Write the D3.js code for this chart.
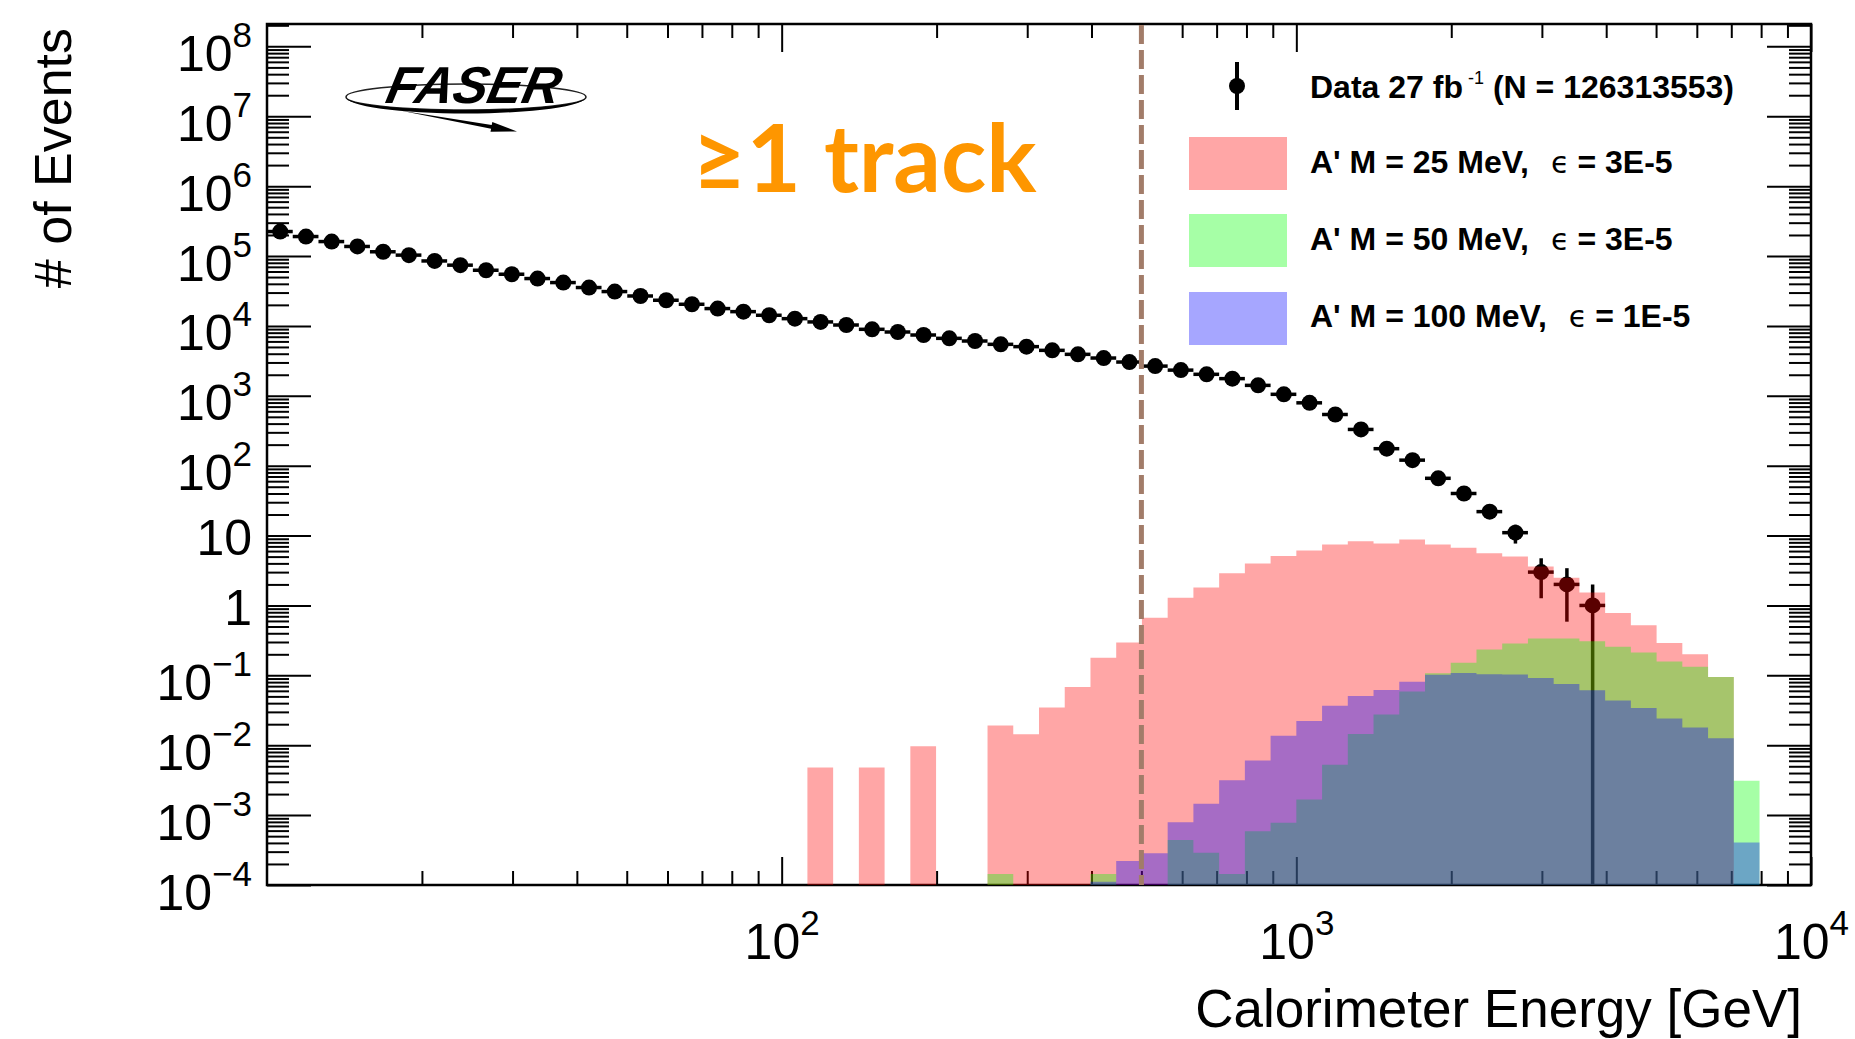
<!DOCTYPE html>
<html>
<head>
<meta charset="utf-8">
<title>FASER calorimeter energy, ≥1 track</title>
<script src="https://cdn.jsdelivr.net/npm/d3@7/dist/d3.min.js"></script>
<style>
  html, body { margin: 0; padding: 0; background: #fff; }
  svg { display: block; }
</style>
</head>
<body>
<svg id="chart" width="1855" height="1039"></svg>
<script>
// ---- binning: logarithmic, 20 bins per decade starting at 10 GeV ----
const binsPerDecade = 20;
const firstEdgeGeV = 10;

// ---- observed events per bin (bin index counted from 10 GeV) ----
const dataFirstBin = 0;
const dataCounts = [224000, 190000, 161000, 137000, 115000, 103000, 85000, 74000, 62600, 54900,
                    47600, 41700, 35400, 31000, 26800, 23300, 20400, 17700, 16000, 14200,
                    12700, 11400, 10300, 8940, 8180, 7410, 6640, 6080, 5450, 5050,
                    4470, 3920, 3470, 3040, 2660, 2330, 2030, 1760, 1410, 1050,
                    793, 540, 330, 175, 120, 66, 40, 22, 11, 3,
                    2, 1];

// ---- A' signal expectations ----
const m25FirstBin = 21;
const m25Values = [0.0048, 0, 0.0048, 0, 0.0097, 0, 0, 0.0191, 0.0143, 0.0347,
                   0.0679, 0.179, 0.296, 0.668, 1.29, 1.81, 2.88, 4.0, 5.1, 6.1,
                   7.45, 8.3, 7.7, 8.8, 7.45, 6.7, 5.6, 5.0, 3.6, 2.5,
                   1.53, 0.78, 0.52, 0.29, 0.20, 0.095];

const m50FirstBin = 28;
const m50Values = [1.44e-4, 0, 0, 0, 1.44e-4, 0, 0, 4.4e-4, 2.9e-4, 1.44e-4,
                   5.9e-4, 7.8e-4, 1.67e-3, 5.25e-3, 0.0145, 0.0276, 0.0586, 0.107, 0.151, 0.234,
                   0.285, 0.336, 0.336, 0.308, 0.256, 0.212, 0.158, 0.133, 0.095, 0.0031];

const m100FirstBin = 32;
const m100Values = [1.11e-4, 2.2e-4, 2.85e-4, 7.9e-4, 1.45e-3, 3.15e-3, 6.05e-3, 0.0137, 0.0222, 0.0366,
                    0.0508, 0.0618, 0.0812, 0.102, 0.108, 0.104, 0.103, 0.0916, 0.0753, 0.0612,
                    0.0436, 0.034, 0.0242, 0.018, 0.0126, 4.05e-4];

// ---- axes ----
const xDomain = [10, 10000];
const yDomain = [1e-4, Math.pow(10, 8.32)];
const xLabelledTicks = [100, 1000, 10000];
const yLabelledTicks = [1e-4, 1e-3, 1e-2, 1e-1, 1, 10, 1e2, 1e3, 1e4, 1e5, 1e6, 1e7, 1e8];
const cutEnergyGeV = 500;

// ---- legend ----
const legendData = "Data 27 fb";
const legendDataSup = "-1";
const legendDataTail = "(N = 126313553)";
const legendSignals = [
  { mass: "A' M = 25 MeV,",  coupling: "= 3E-5" },
  { mass: "A' M = 50 MeV,",  coupling: "= 3E-5" },
  { mass: "A' M = 100 MeV,", coupling: "= 1E-5" }
];

// ================= drawing =================
const FONT = '"Liberation Sans", Arial, Helvetica, sans-serif';
const frame = { left: 267, right: 1811, top: 24, bottom: 885 };
const fills = ['#ff0000', '#00ff00', '#0000ff'];
const fillAlpha = 0.35;
const markerR = 8;

const svg = d3.select('#chart');
const x = d3.scaleLog().domain(xDomain).range([frame.left, frame.right]);
const y = d3.scaleLog().domain(yDomain).range([frame.bottom, frame.top]);
const edge = k => firstEdgeGeV * Math.pow(10, k / binsPerDecade);

// 2..9 sub-divisions of each decade, from the scales' own log ticks
const isDecade = v => Math.abs(Math.log10(v) - Math.round(Math.log10(v))) < 1e-9;
const xMinor = x.ticks(30).filter(v => !isDecade(v));
const yMinor = y.ticks(100).filter(v => !isDecade(v));

// ---------- axes & frame ----------
const gAxes = svg.append('g');
function tidy(g) {
  g.select('.domain').remove();
  g.selectAll('.tick line').attr('stroke', '#000').attr('stroke-width', 2);
  g.attr('font-family', FONT);
}
function noLabels(g) { g.selectAll('.tick text').remove(); }

// left
gAxes.append('g').attr('transform', `translate(${frame.left},0)`)
  .call(d3.axisLeft(y).tickValues(yMinor).tickSize(-22).tickFormat(''))
  .call(tidy).call(noLabels);
const gLeft = gAxes.append('g').attr('transform', `translate(${frame.left},0)`)
  .call(d3.axisLeft(y).tickValues(yLabelledTicks).tickSize(-44).tickPadding(16))
  .call(tidy);
// right
gAxes.append('g').attr('transform', `translate(${frame.right},0)`)
  .call(d3.axisRight(y).tickValues(yMinor).tickSize(-22).tickFormat(''))
  .call(tidy).call(noLabels);
gAxes.append('g').attr('transform', `translate(${frame.right},0)`)
  .call(d3.axisRight(y).tickValues(yLabelledTicks).tickSize(-44).tickFormat(''))
  .call(tidy).call(noLabels);
// bottom
gAxes.append('g').attr('transform', `translate(0,${frame.bottom})`)
  .call(d3.axisBottom(x).tickValues(xMinor).tickSize(-14).tickFormat(''))
  .call(tidy).call(noLabels);
const gBottom = gAxes.append('g').attr('transform', `translate(0,${frame.bottom})`)
  .call(d3.axisBottom(x).tickValues(xLabelledTicks).tickSize(-28))
  .call(tidy);
// top
gAxes.append('g').attr('transform', `translate(0,${frame.top})`)
  .call(d3.axisTop(x).tickValues(xMinor).tickSize(-14).tickFormat(''))
  .call(tidy).call(noLabels);
gAxes.append('g').attr('transform', `translate(0,${frame.top})`)
  .call(d3.axisTop(x).tickValues(xLabelledTicks).tickSize(-28).tickFormat(''))
  .call(tidy).call(noLabels);

// power-of-ten labels written as 10 with a raised exponent
function powerLabel(sel, v) {
  const e = Math.round(Math.log10(v));
  sel.text(null).attr('dy', null).attr('font-size', 50).attr('fill', '#000');
  if (e === 0 || e === 1) {
    sel.append('tspan').text(e === 0 ? '1' : '10');
    return false;
  }
  sel.append('tspan').text('10');
  sel.append('tspan').attr('dy', -24).attr('font-size', 35)
     .text(e < 0 ? '\u2212' + (-e) : String(e));
  return true;
}
gLeft.selectAll('.tick text').each(function (v) {
  const t = d3.select(this);
  const sup = powerLabel(t, v);
  t.attr('x', -15).attr('y', sup ? 24 : 19).attr('text-anchor', 'end');
});
gBottom.selectAll('.tick text').each(function (v) {
  const t = d3.select(this);
  powerLabel(t, v);
  t.attr('y', 74).attr('text-anchor', 'middle');
});

// frame
gAxes.append('rect')
  .attr('x', frame.left).attr('y', frame.top)
  .attr('width', frame.right - frame.left).attr('height', frame.bottom - frame.top)
  .attr('fill', 'none').attr('stroke', '#000').attr('stroke-width', 2.5);

// ---------- data points ----------
const gData = svg.append('g');
dataCounts.forEach((n, i) => {
  if (!(n > 0)) return;
  const k = dataFirstBin + i;
  const lo = edge(k), hi = edge(k + 1);
  const xc = x((lo + hi) / 2);
  const yc = y(n);
  const err = Math.sqrt(n);
  const yLow = y(Math.max(n - err, yDomain[0]));
  const yHigh = y(n + err);
  const g = gData.append('g');
  g.append('line').attr('x1', x(lo)).attr('x2', x(hi)).attr('y1', yc).attr('y2', yc)
    .attr('stroke', '#000').attr('stroke-width', 3.5);
  g.append('line').attr('x1', xc).attr('x2', xc).attr('y1', yHigh).attr('y2', yLow)
    .attr('stroke', '#000').attr('stroke-width', 3.5);
  g.append('circle').attr('cx', xc).attr('cy', yc).attr('r', markerR).attr('fill', '#000');
});

// ---------- signal histograms (translucent, overlaid) ----------
function histPath(values, firstBin) {
  const p = d3.path();
  const base = y(yDomain[0]);
  let i = 0;
  while (i < values.length) {
    if (!(values[i] > 0)) { i++; continue; }
    p.moveTo(x(edge(firstBin + i)), base);
    while (i < values.length && values[i] > 0) {
      const yy = y(Math.max(values[i], yDomain[0]));
      p.lineTo(x(edge(firstBin + i)), yy);
      p.lineTo(x(edge(firstBin + i + 1)), yy);
      i++;
    }
    p.lineTo(x(edge(firstBin + i)), base);
    p.closePath();
  }
  return p.toString();
}
const gHist = svg.append('g');
[[m25Values, m25FirstBin], [m50Values, m50FirstBin], [m100Values, m100FirstBin]]
  .forEach(([vals, first], s) => {
    gHist.append('path').attr('d', histPath(vals, first))
      .attr('fill', fills[s]).attr('fill-opacity', fillAlpha).attr('stroke', 'none');
  });

// ---------- energy cut ----------
svg.append('line')
  .attr('x1', x(cutEnergyGeV)).attr('x2', x(cutEnergyGeV))
  .attr('y1', frame.top + 1).attr('y2', frame.bottom)
  .attr('stroke', '#a27c69').attr('stroke-width', 5).attr('stroke-dasharray', '19 6');

// ---------- axis titles ----------
svg.append('text')
  .attr('transform', 'translate(71,28) rotate(-90)')
  .attr('text-anchor', 'end').attr('font-family', FONT).attr('font-size', 52)
  .text('# of Events');
svg.append('text')
  .attr('x', 1802).attr('y', 1027)
  .attr('text-anchor', 'end').attr('font-family', FONT).attr('font-size', 53)
  .text('Calorimeter Energy [GeV]');

// ---------- legend ----------
const gLeg = svg.append('g').attr('font-family', FONT).attr('font-weight', 'bold').attr('font-size', 32);
gLeg.append('line').attr('x1', 1237).attr('x2', 1237).attr('y1', 62).attr('y2', 110)
  .attr('stroke', '#000').attr('stroke-width', 4);
gLeg.append('circle').attr('cx', 1237).attr('cy', 86).attr('r', markerR).attr('fill', '#000');
const tData = gLeg.append('text').attr('x', 1310).attr('y', 98);
tData.append('tspan').text(legendData);
tData.append('tspan').attr('dx', 5).attr('dy', -14).attr('font-size', 18).attr('font-weight', 'normal').text(legendDataSup);
tData.append('tspan').attr('dx', 9).attr('dy', 14).text(legendDataTail);

const swatchTop = [137, 214, 292];
const textBase = [173, 250, 327];
legendSignals.forEach((d, s) => {
  gLeg.append('rect').attr('x', 1189).attr('y', swatchTop[s]).attr('width', 98).attr('height', 53)
    .attr('fill', fills[s]).attr('fill-opacity', fillAlpha);
  const t = gLeg.append('text').attr('x', 1310).attr('y', textBase[s]);
  t.append('tspan').text(d.mass);
  t.append('tspan').attr('dx', 22).attr('font-family', '"DejaVu Sans", sans-serif')
    .attr('font-weight', 'normal').attr('font-size', 30).text('\u03f5');
  t.append('tspan').attr('dx', 8).text(d.coupling);
});

// ---------- experiment logo ----------
const gLogo = svg.append('g');
gLogo.append('ellipse').attr('cx', 466).attr('cy', 97).attr('rx', 120).attr('ry', 13)
  .attr('fill', 'none').attr('stroke', '#222').attr('stroke-width', 1.6);
gLogo.append('path').attr('d', 'M346,97 A120,13 0 0 0 586,97 A120,16.5 0 0 1 346,97 Z').attr('fill', '#000');
gLogo.append('path')
  .attr('d', 'M400,110.5 L491.7,125.1 L492.3,122 L517,131.5 L490.5,131.8 L491.1,128.7 Z')
  .attr('fill', '#000');
gLogo.append('text')
  .attr('transform', 'translate(384,103) skewX(-12)')
  .attr('font-family', FONT).attr('font-weight', 'bold').attr('font-style', 'italic')
  .attr('font-size', 52).attr('fill', '#000')
  .text('FASER');

// ---------- selection label ----------
svg.append('text')
  .attr('x', 692).attr('y', 192)
  .attr('font-family', 'Lato, "Open Sans", sans-serif').attr('font-weight', 'bold')
  .attr('font-size', 94).attr('fill', '#fe9600')
  .text('\u22651 track');
</script>
</body>
</html>
